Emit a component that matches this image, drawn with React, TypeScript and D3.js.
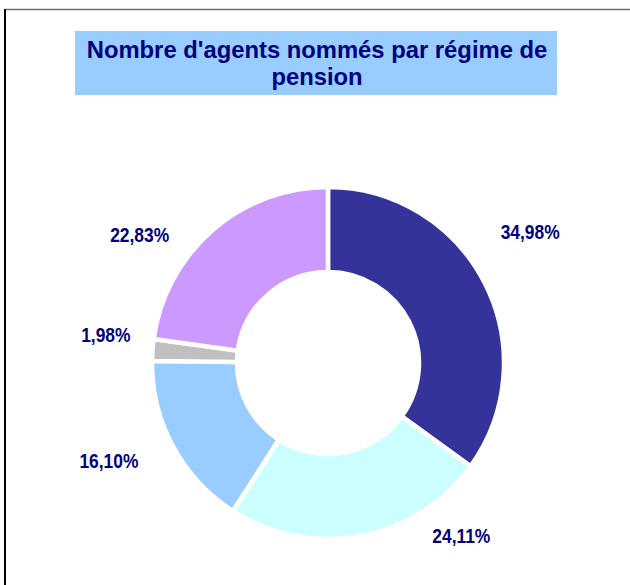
import React from 'react';
import * as d3 from 'd3';

const title = ["Nombre d'agents nommés par régime de", 'pension'];
const regimes = ['Régime 1', 'Régime 2', 'Régime 3', 'Régime 4', 'Régime 5'];
const shares = [34.98, 24.11, 16.10, 1.98, 22.83];
const sliceColors = ['#333399', '#CCFFFF', '#99CCFF', '#C0C0C0', '#CC99FF'];
// label placement (degrees clockwise from 12 o'clock, px from centre)
const labelAngle = [57, 142.3, 245.9, 277.3, 304.3];
const labelRadius = [241, 218, 240, 224, 228];

const W = 630;
const H = 585;
const cx = 328;
const cy = 363;
const outerR = 176;
const innerR = 91;

const fmt = (v: number) => v.toFixed(2).replace('.', ',') + '%';

export default function App() {
  const pie = d3.pie<number>().sort(null).value(d => d)(shares);
  const arc = d3.arc<d3.PieArcDatum<number>>().innerRadius(innerR).outerRadius(outerR);

  return (
    <svg width={W} height={H} style={{ position: 'absolute', left: 0, top: 0, background: '#fff' }}>
      {/* chart area frame */}
      <line x1={5} y1={9.5} x2={W} y2={9.5} stroke="#6e6e6e" strokeWidth={1.6} />
      <line x1={5} y1={9} x2={5} y2={H} stroke="#000" strokeWidth={2} />

      {/* title */}
      <rect x={75} y={31} width={482} height={64} fill="#99CCFF" />
      <g fontFamily="'Liberation Sans', Arial, sans-serif" fontWeight="bold" fontSize={23.8} fill="#000080" textAnchor="middle">
        {title.map((t, i) => (
          <text key={i} x={317} y={57.5 + i * 27.5}>{t}</text>
        ))}
      </g>

      <g transform={`translate(${cx},${cy})`}>
        {pie.map((d, i) => (
          <path key={regimes[i]} d={arc(d) || ''} fill={sliceColors[i]} stroke="#fff" strokeWidth={4.5} strokeLinejoin="miter" />
        ))}
      </g>

      <g fontFamily="'Liberation Sans', Arial, sans-serif" fontWeight="bold" fontSize={20} fill="#000080" textAnchor="middle">
        {shares.map((v, i) => {
          const a = (labelAngle[i] * Math.PI) / 180;
          const x = cx + labelRadius[i] * Math.sin(a);
          const y = cy - labelRadius[i] * Math.cos(a);
          return (
            <text key={regimes[i]} transform={`translate(${x},${y}) scale(0.87,1)`} dy="0.36em">{fmt(v)}</text>
          );
        })}
      </g>
    </svg>
  );
}
